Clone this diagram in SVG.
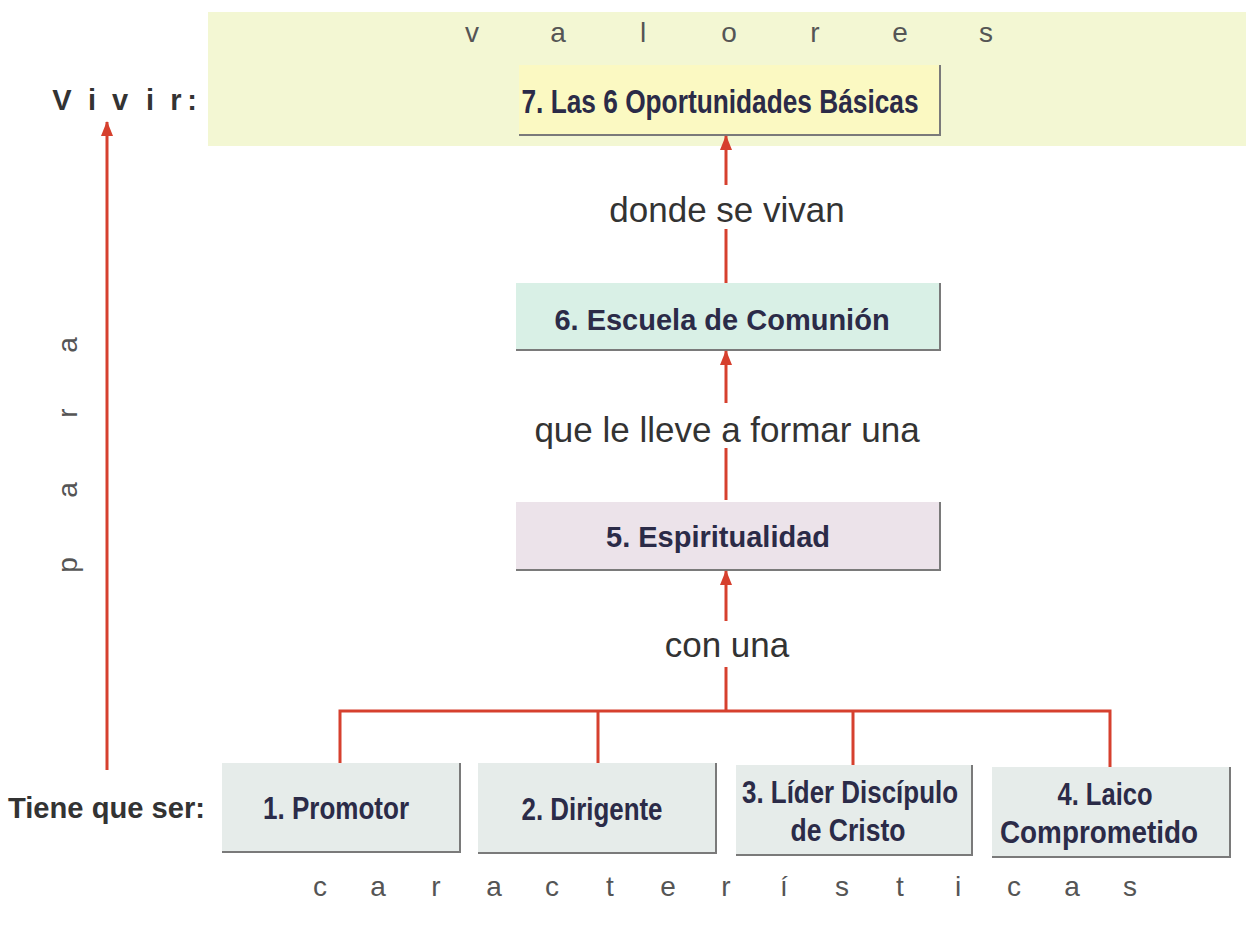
<svg xmlns="http://www.w3.org/2000/svg" width="1246" height="928" viewBox="0 0 1246 928">
<style>
.lbl{font-family:"Liberation Sans",Arial,sans-serif;font-size:35px;fill:#333;text-anchor:middle}
.sp{font-family:"Liberation Sans",Arial,sans-serif;font-size:28px;fill:#555;text-anchor:middle}
.hd{font-family:"Liberation Sans",Arial,sans-serif;font-size:29px;font-weight:bold;fill:#333}
.nt{font-family:"Liberation Sans Narrow","Liberation Sans",Arial,sans-serif;font-weight:bold;fill:#2b2b48;text-anchor:middle}
.wide{font-family:"Liberation Sans",Arial,sans-serif;font-weight:bold;fill:#2b2b48;text-anchor:middle;font-size:29px}
.shadow{fill:none;stroke:#7a7a7a;stroke-width:2}
.con{stroke:#d6402e;stroke-width:3;fill:none}
</style>
<defs>
<marker id="ah" markerWidth="15" markerHeight="12" refX="14" refY="6" orient="auto" markerUnits="userSpaceOnUse" viewBox="0 0 15 12">
<path d="M0,0 L15,6 L0,12 Z" fill="#d6402e"/>
</marker>
</defs>
<rect width="1246" height="928" fill="#ffffff"/>
<rect id="band" x="208" y="12" width="1038" height="134" fill="#f3f7d3"/>
<text class="sp" y="42"><tspan x="472">v</tspan><tspan x="558">a</tspan><tspan x="643">l</tspan><tspan x="729">o</tspan><tspan x="815">r</tspan><tspan x="900">e</tspan><tspan x="986">s</tspan></text>
<text class="hd" y="110" text-anchor="middle"><tspan x="62">V</tspan><tspan x="92">i</tspan><tspan x="120">v</tspan><tspan x="150">i</tspan><tspan x="176">r</tspan><tspan x="192">:</tspan></text>
<text class="hd" x="8" y="818" textLength="197" lengthAdjust="spacingAndGlyphs">Tiene que ser:</text>
<text class="sp" transform="translate(77,0) rotate(-90)"><tspan x="-565" y="0">p</tspan><tspan x="-490" y="0">a</tspan><tspan x="-413" y="0">r</tspan><tspan x="-345" y="0">a</tspan></text>
<text class="sp" y="896"><tspan x="320">c</tspan><tspan x="378">a</tspan><tspan x="436">r</tspan><tspan x="494">a</tspan><tspan x="552">c</tspan><tspan x="610">t</tspan><tspan x="668">e</tspan><tspan x="726">r</tspan><tspan x="784">í</tspan><tspan x="842">s</tspan><tspan x="900">t</tspan><tspan x="958">i</tspan><tspan x="1014">c</tspan><tspan x="1072">a</tspan><tspan x="1130">s</tspan></text>

<g id="n7">
<rect x="519" y="65" width="421" height="70" fill="#fbf9c2"/>
<path class="shadow" d="M940,65 V135 H519"/>
<text class="nt" x="720" y="113" font-size="33" textLength="397" lengthAdjust="spacingAndGlyphs">7. Las 6 Oportunidades Básicas</text>
</g>
<g id="n6">
<rect x="516" y="283" width="424" height="67" fill="#d9f0e6"/>
<path class="shadow" d="M940,283 V350 H516"/>
<text class="wide" x="722" y="330">6. Escuela de Comunión</text>
</g>
<g id="n5">
<rect x="516" y="502" width="424" height="68" fill="#ece3ea"/>
<path class="shadow" d="M940,502 V570 H516"/>
<text class="wide" x="718" y="547">5. Espiritualidad</text>
</g>
<g id="n1">
<rect x="222" y="763" width="238" height="89" fill="#e6ecea"/>
<path class="shadow" d="M460,763 V852 H222"/>
<text class="nt" x="336" y="819" font-size="32" textLength="146" lengthAdjust="spacingAndGlyphs">1. Promotor</text>
</g>
<g id="n2">
<rect x="478" y="763" width="238" height="90" fill="#e6ecea"/>
<path class="shadow" d="M716,763 V853 H478"/>
<text class="nt" x="592" y="820" font-size="32" textLength="141" lengthAdjust="spacingAndGlyphs">2. Dirigente</text>
</g>
<g id="n3">
<rect x="736" y="765" width="236" height="90" fill="#e6ecea"/>
<path class="shadow" d="M972,765 V855 H736"/>
<text class="nt" x="850" y="803" font-size="32" textLength="216" lengthAdjust="spacingAndGlyphs">3. Líder Discípulo</text>
<text class="nt" x="848" y="841" font-size="32" textLength="115" lengthAdjust="spacingAndGlyphs">de Cristo</text>
</g>
<g id="n4">
<rect x="992" y="767" width="238" height="90" fill="#e6ecea"/>
<path class="shadow" d="M1230,767 V857 H992"/>
<text class="nt" x="1105" y="805" font-size="32" textLength="95" lengthAdjust="spacingAndGlyphs">4. Laico</text>
<text class="nt" x="1099" y="843" font-size="32" textLength="198" lengthAdjust="spacingAndGlyphs">Comprometido</text>
</g>

<g id="connectors">
<line class="con" x1="107" y1="770" x2="107" y2="122" marker-end="url(#ah)"/>
<line class="con" x1="726" y1="185" x2="726" y2="136" marker-end="url(#ah)"/>
<line class="con" x1="726" y1="283" x2="726" y2="229"/>
<line class="con" x1="726" y1="403" x2="726" y2="351" marker-end="url(#ah)"/>
<line class="con" x1="726" y1="500" x2="726" y2="448"/>
<line class="con" x1="726" y1="621" x2="726" y2="571" marker-end="url(#ah)"/>
<line class="con" x1="726" y1="711" x2="726" y2="667"/>
<path class="con" d="M340,763 V711 H1110 V767 M598,711 V763 M853,711 V765"/>
</g>
<text class="lbl" x="727" y="222">donde se vivan</text>
<text class="lbl" x="727" y="442">que le lleve a formar una</text>
<text class="lbl" x="727" y="657">con una</text>
</svg>
